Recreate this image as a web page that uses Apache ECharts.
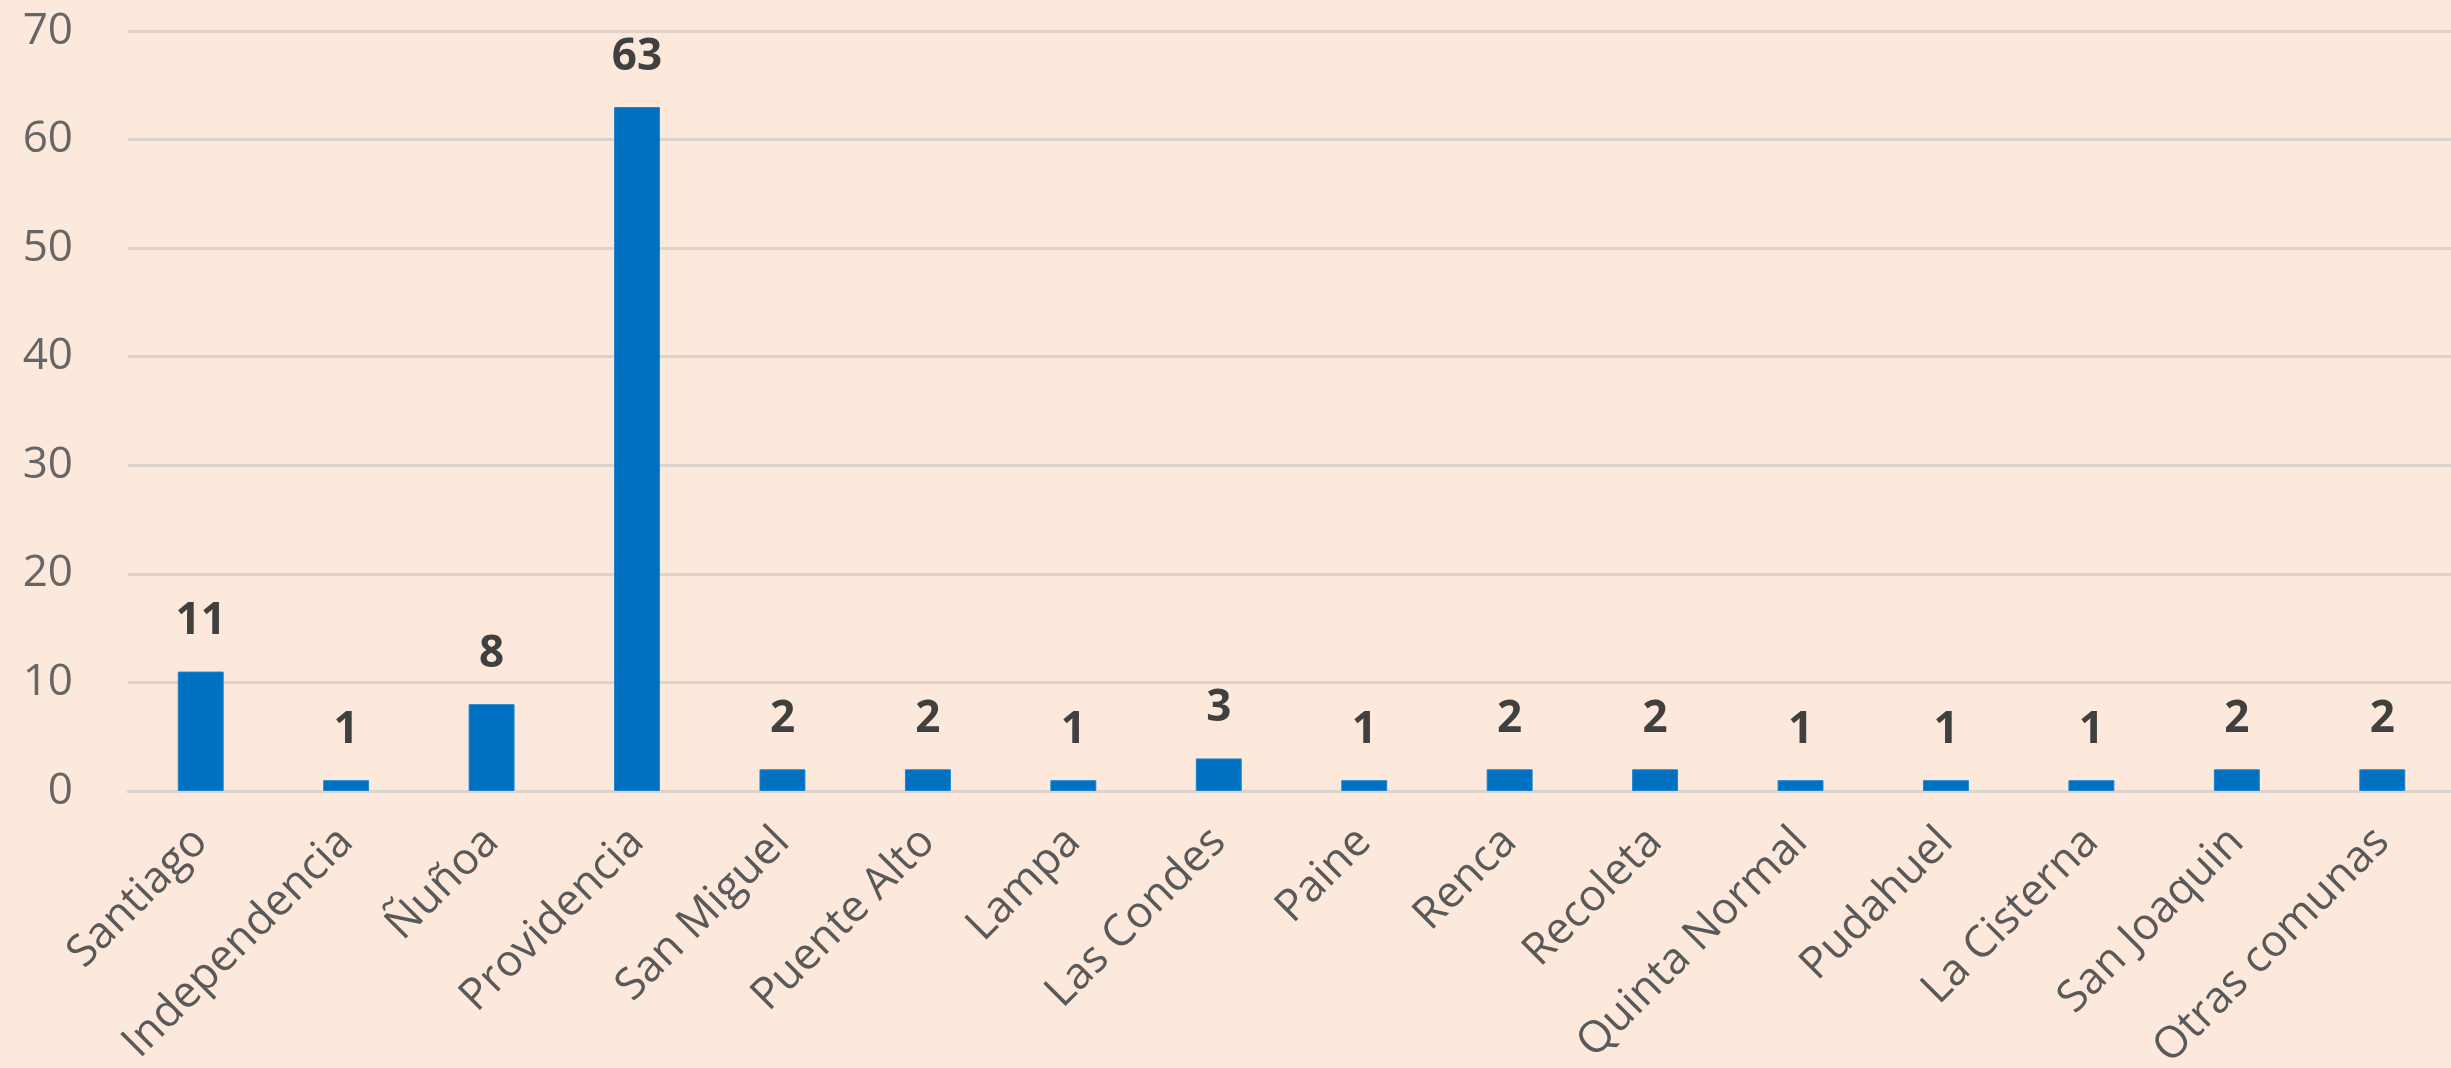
<!DOCTYPE html>
<html>
<head>
<meta charset="utf-8">
<script src="https://cdn.jsdelivr.net/npm/echarts@6/dist/echarts.min.js"></script>
<style>
html,body{margin:0;padding:0;background:#FCE9DC;}
#c{width:2451px;height:1068px;}
</style>
</head>
<body>
<div id="c"></div>
<script>
const categories = ["Santiago","Independencia","Ñuñoa","Providencia","San Miguel","Puente Alto","Lampa","Las Condes","Paine","Renca","Recoleta","Quinta Normal","Pudahuel","La Cisterna","San Joaquin","Otras comunas"];
const values = [11,1,8,63,2,2,1,3,1,2,2,1,1,1,2,2];
const yTicks = [0,10,20,30,40,50,60,70];

const chart = echarts.init(document.getElementById('c'), null, {renderer:'canvas'});
chart.setOption({
  backgroundColor:'#FCE9DC',
  animation:false,
  grid:{left:128, top:31, width:2327, bottom:277, containLabel:false, outerBoundsMode:'none'},
  xAxis:{
    type:'category',
    data:categories,
    axisTick:{show:false},
    axisLine:{show:true, lineStyle:{color:'#DCD3CD', width:3}},
    axisLabel:{
      interval:0, rotate:45, margin:44,
      fontFamily:'Open Sans', fontSize:44, color:'#595959'
    }
  },
  yAxis:{
    type:'value',
    min:yTicks[0], max:yTicks[yTicks.length-1], interval:10,
    axisLine:{show:false}, axisTick:{show:false},
    splitLine:{lineStyle:{color:'#DCD3CD', width:3}},
    axisLabel:{fontFamily:'Open Sans', fontSize:44, color:'#666666', margin:55}
  },
  series:[{
    type:'bar',
    data:values,
    barWidth:'31.6%',
    itemStyle:{color:'#0070C0', borderColor:'#1E86D0', borderWidth:1},
    label:{
      show:true, position:'top', distance:28,
      fontFamily:'Open Sans', fontSize:44, fontWeight:'bold', color:'#404040'
    }
  }]
});
</script>
</body>
</html>
